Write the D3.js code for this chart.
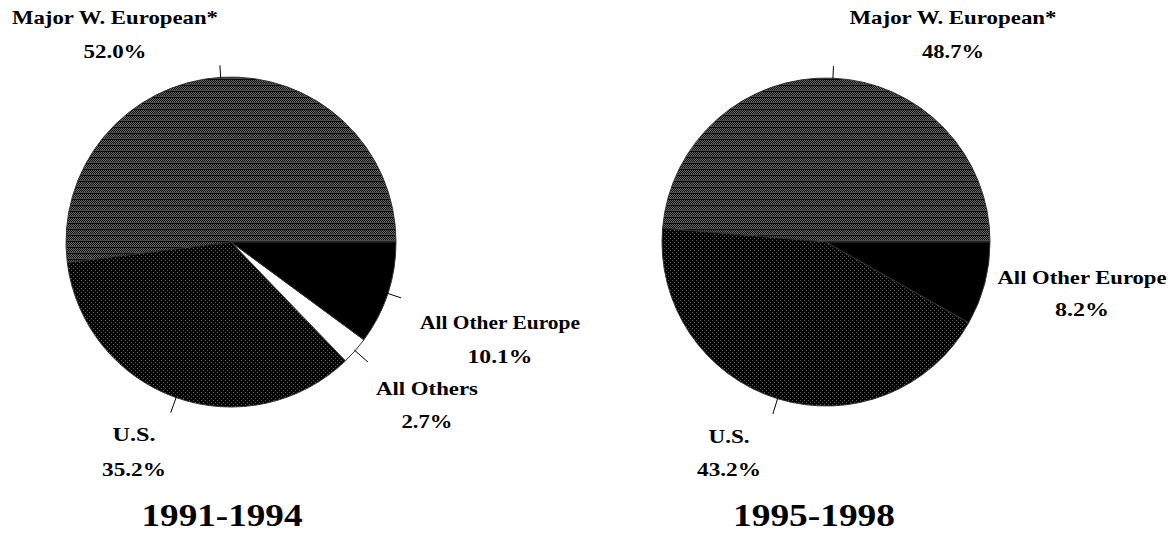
<!DOCTYPE html>
<html>
<head>
<meta charset="utf-8">
<script src="https://cdn.jsdelivr.net/npm/d3@7"></script>
<style>
  body { margin: 0; background: #fff; }
  svg { display: block; }
  .lbl { font-family: "Liberation Serif", serif; font-weight: bold; font-size: 19px; fill: #000; }
  .ttl { font-family: "Liberation Serif", serif; font-weight: bold; font-size: 32px; fill: #000; }
</style>
</head>
<body>
<svg id="chart" width="1170" height="534"></svg>
<script>
// slice order goes counter-clockwise from 3 o'clock
const categories1 = ["Major W. European*", "U.S.", "All Others", "All Other Europe"];
const values1 = [52.0, 35.2, 2.7, 10.1];
const categories2 = ["Major W. European*", "U.S.", "All Other Europe"];
const values2 = [48.7, 43.2, 8.2];
const titles = ["1991-1994", "1995-1998"];

const fills = {
  "Major W. European*": "url(#patMajor)",
  "U.S.": "url(#patUS)",
  "All Others": "#fff",
  "All Other Europe": "#000"
};

const svg = d3.select("#chart");
const defs = svg.append("defs");

// dithered gray with horizontal banding
const pm = defs.append("pattern").attr("id", "patMajor")
  .attr("patternUnits", "userSpaceOnUse").attr("width", 4).attr("height", 6);
pm.append("rect").attr("width", 4).attr("height", 6).attr("fill", "#0c0c0c");
[[0,0],[2,0],[1,1],[3,1],[0,2],[2,2],[1,3],[3,3],[0,4],[1,4],[2,4],[3,4]].forEach(([x, y]) => {
  pm.append("rect").attr("x", x).attr("y", y).attr("width", 1).attr("height", 1)
    .attr("fill", y === 4 ? "#4a4a4a" : "#686868");
});

// black with sparse gray dots
const pu = defs.append("pattern").attr("id", "patUS")
  .attr("patternUnits", "userSpaceOnUse").attr("width", 4).attr("height", 4);
pu.append("rect").attr("width", 4).attr("height", 4).attr("fill", "#030303");
[[0,0],[2,2]].forEach(([x, y]) => {
  pu.append("rect").attr("x", x).attr("y", y).attr("width", 1).attr("height", 1).attr("fill", "#5c5c5c");
});

const pie = d3.pie().sort(null).value(d => d.value)
  .startAngle(Math.PI / 2).endAngle(Math.PI / 2 - 2 * Math.PI);

const charts = [
  {
    cx: 231, cy: 242, r: 165, cats: categories1, vals: values1, title: titles[0], titleX: 222, titleLen: 161,
    labels: {
      "Major W. European*": { x: 115, y: 24, len: 206, py: 58, plen: 63 },
      "U.S.": { x: 134, y: 441, len: 43, py: 476, plen: 64 },
      "All Others": { x: 427, y: 395, len: 102, py: 428, plen: 51 },
      "All Other Europe": { x: 500, y: 329, len: 160, py: 363, plen: 65 }
    },
    leader: { "Major W. European*": 12, "U.S.": 16, "All Others": 17, "All Other Europe": 14 }
  },
  {
    cx: 826, cy: 242, r: 164, cats: categories2, vals: values2, title: titles[1], titleX: 814, titleLen: 162,
    labels: {
      "Major W. European*": { x: 953, y: 24, len: 207, py: 58, plen: 62 },
      "U.S.": { x: 729, y: 443, len: 41, py: 476, plen: 64 },
      "All Other Europe": { x: 1082, y: 284, len: 169, py: 316, plen: 54 }
    },
    leader: { "Major W. European*": 12, "U.S.": 16 }
  }
];

charts.forEach(c => {
  const data = c.cats.map((k, i) => ({ key: k, value: c.vals[i] }));
  const arc = d3.arc().innerRadius(0).outerRadius(c.r);
  const g = svg.append("g").attr("transform", `translate(${c.cx},${c.cy})`);

  g.selectAll("path.slice")
    .data(pie(data))
    .join("path")
    .attr("class", "slice")
    .attr("d", arc)
    .attr("fill", d => fills[d.data.key])
    .attr("stroke", "#333")
    .attr("stroke-width", 1);

  // leader lines along each slice's middle angle
  const mid = d => (d.startAngle + d.endAngle) / 2;
  g.selectAll("line.leader")
    .data(pie(data).filter(d => c.leader[d.data.key]))
    .join("line")
    .attr("class", "leader")
    .attr("x1", d => Math.sin(mid(d)) * (c.r - 1))
    .attr("y1", d => -Math.cos(mid(d)) * (c.r - 1))
    .attr("x2", d => Math.sin(mid(d)) * (c.r + c.leader[d.data.key]))
    .attr("y2", d => -Math.cos(mid(d)) * (c.r + c.leader[d.data.key]))
    .attr("stroke", "#000")
    .attr("stroke-width", 1);

  data.forEach(d => {
    const L = c.labels[d.key];
    svg.append("text").attr("class", "lbl")
      .attr("x", L.x).attr("y", L.y).attr("text-anchor", "middle")
      .attr("textLength", L.len).attr("lengthAdjust", "spacingAndGlyphs")
      .text(d.key);
    svg.append("text").attr("class", "lbl")
      .attr("x", L.x).attr("y", L.py).attr("text-anchor", "middle")
      .attr("textLength", L.plen).attr("lengthAdjust", "spacingAndGlyphs")
      .text(d.value.toFixed(1) + "%");
  });

  svg.append("text").attr("class", "ttl")
    .attr("x", c.titleX).attr("y", 526).attr("text-anchor", "middle")
    .attr("textLength", c.titleLen).attr("lengthAdjust", "spacingAndGlyphs")
    .text(c.title);
});
</script>
</body>
</html>
